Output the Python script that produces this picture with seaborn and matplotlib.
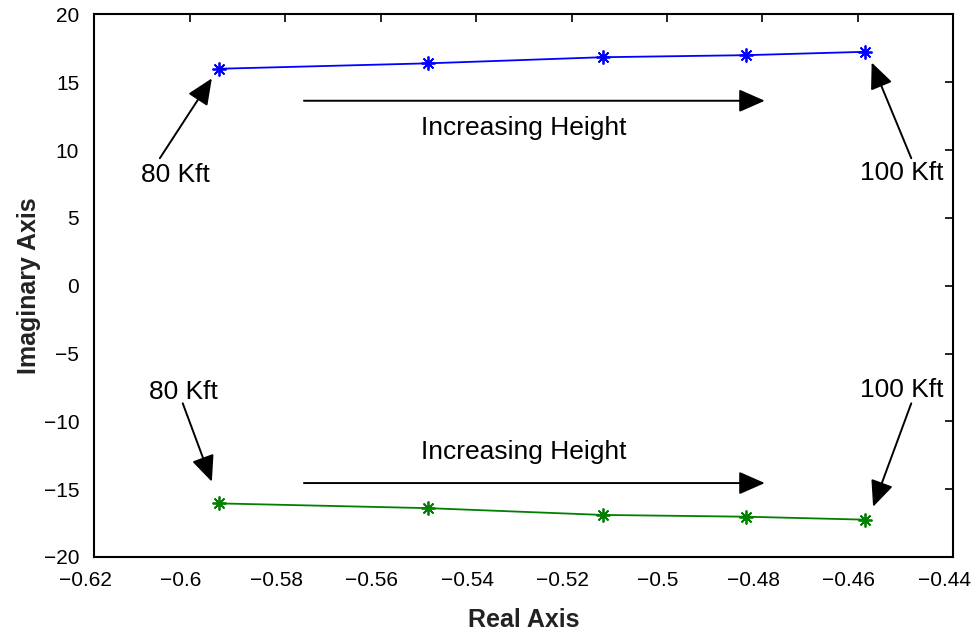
import numpy as np
import pandas as pd
import matplotlib
matplotlib.use("Agg")
import matplotlib.pyplot as plt
import matplotlib.transforms as mtrans
import seaborn as sns

# Data
real_part = [-0.5938, -0.5500, -0.5135, -0.4835, -0.4584]
imag_upper = [16.0, 16.4, 16.85, 17.0, 17.25]
imag_lower = [-16.05, -16.4, -16.9, -17.03, -17.25]

x_ticks = [-0.62, -0.6, -0.58, -0.56, -0.54, -0.52, -0.5, -0.48, -0.46, -0.44]
y_ticks = [20, 15, 10, 5, 0, -5, -10, -15, -20]

df = pd.DataFrame({
    "Real": real_part + real_part,
    "Imag": imag_upper + imag_lower,
    "Branch": ["upper"] * len(real_part) + ["lower"] * len(real_part),
})
colors = {"upper": (0, 0, 1), "lower": (0, 0.5, 0)}

sns.set_style("white")
plt.rcParams["font.family"] = ["Liberation Sans", "DejaVu Sans"]
plt.rcParams["axes.unicode_minus"] = True

fig = plt.figure(figsize=(9.77, 6.33), dpi=100)
ax = fig.add_axes([0.0967, 0.1201, 0.9757 - 0.0967, 0.9771 - 0.1201])

sns.lineplot(data=df, x="Real", y="Imag", hue="Branch", sort=False,
             palette=colors, marker=(8, 2, 0), markersize=10,
             markeredgewidth=1.3, linewidth=1.3, legend=False, ax=ax,
             estimator=None)
for line in ax.get_lines():
    line.set_markeredgecolor(line.get_color())
    line.set_markerfacecolor(line.get_color())

ax.set_xlim(-0.62, -0.44)
ax.set_ylim(-20, 20)
ax.set_xticks(x_ticks)
ax.set_yticks(y_ticks)
ax.set_xticklabels([f"{v:g}".replace("-", "\u2212") for v in x_ticks])
ax.set_yticklabels([f"{v:g}".replace("-", "\u2212") for v in y_ticks])
ax.tick_params(direction="in", length=6, width=1.2, labelsize=15,
               top=True, right=True, color="black", labelcolor="black")
ax.tick_params(axis="x", pad=10)
ax.tick_params(axis="y", pad=11)
shift = mtrans.ScaledTranslation(-9 / 100, 0, fig.dpi_scale_trans)
for lbl in ax.get_xticklabels():
    lbl.set_transform(lbl.get_transform() + shift)
for s in ax.spines.values():
    s.set_linewidth(1.5)
    s.set_color("black")

ax.set_xlabel("Real Axis", fontsize=18, fontweight="bold", color="#222222", labelpad=13)
ax.set_ylabel("Imaginary Axis", fontsize=18, fontweight="bold", color="#222222", labelpad=2)

arrow = dict(arrowstyle="-|>,head_length=0.5,head_width=0.22", color="black",
             lw=1.4, mutation_scale=32, shrinkA=0, shrinkB=0)
tfs = 19
# Upper annotations
ax.annotate("", xy=(-0.5954, 15.29), xytext=(-0.6063, 9.40), arrowprops=arrow)
ax.text(-0.6031, 8.16, "80 Kft", ha="center", va="center", fontsize=tfs, color="black")
ax.annotate("", xy=(-0.4571, 16.46), xytext=(-0.4488, 9.40), arrowprops=arrow)
ax.text(-0.4508, 8.29, "100 Kft", ha="center", va="center", fontsize=tfs, color="black")
ax.annotate("", xy=(-0.4795, 13.64), xytext=(-0.5761, 13.64), arrowprops=arrow)
ax.text(-0.5301, 11.63, "Increasing Height", ha="center", va="center", fontsize=tfs, color="black")
# Lower annotations
ax.annotate("", xy=(-0.5954, -14.45), xytext=(-0.6015, -8.67), arrowprops=arrow)
ax.text(-0.6014, -7.82, "80 Kft", ha="center", va="center", fontsize=tfs, color="black")
ax.annotate("", xy=(-0.4568, -16.30), xytext=(-0.4488, -8.67), arrowprops=arrow)
ax.text(-0.4508, -7.69, "100 Kft", ha="center", va="center", fontsize=tfs, color="black")
ax.annotate("", xy=(-0.4795, -14.55), xytext=(-0.5761, -14.55), arrowprops=arrow)
ax.text(-0.5301, -12.26, "Increasing Height", ha="center", va="center", fontsize=tfs, color="black")

fig.savefig("out.png", dpi=100)
